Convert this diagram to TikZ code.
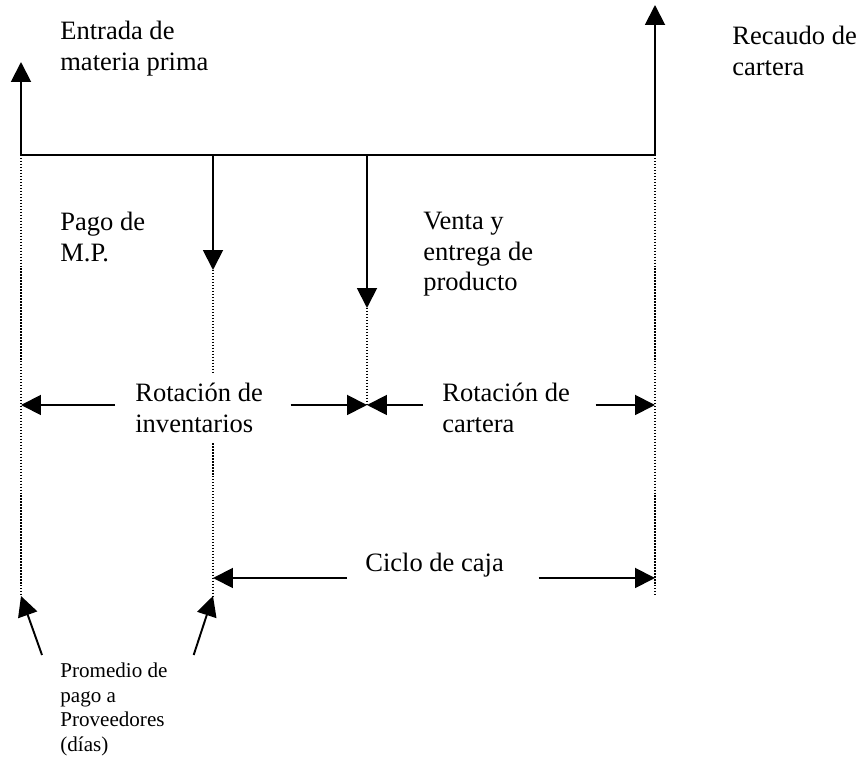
\documentclass[tikz,border=0pt]{standalone}
\usepackage{fontspec}
\setmainfont{Liberation Serif}
\usetikzlibrary{arrows.meta}

\newcommand{\letragrande}{\fontsize{15.1pt}{17.4pt}\selectfont}
\newcommand{\letrachica}{\fontsize{12pt}{13.9pt}\selectfont}

\begin{document}
\begin{tikzpicture}[x=0.02cm, y=-0.02cm,
  linea/.style={line width=1.2pt},
  flecha/.style={line width=1.1pt, -{Triangle[length=0.4cm, width=0.4cm]}},
  guia/.style={line width=0.8pt, dash pattern=on 0.8pt off 0.9pt},
  rotulo/.style={anchor=north west, inner sep=0pt, align=flush left, font=\letragrande},
  cota/.style={anchor=north west, inner ysep=0.2cm, align=flush left, font=\letragrande}]

\useasboundingbox (0,0) rectangle (860,763);

\coordinate (A) at (21,155);
\coordinate (B) at (213,155);
\coordinate (C) at (367,155);
\coordinate (D) at (655,155);
\coordinate (entrada) at (21,62);
\coordinate (recaudo) at (655,5);
\coordinate (pago) at (213,270);
\coordinate (venta) at (367,308);

\coordinate (A1) at (21,405);
\coordinate (C1) at (367,405);
\coordinate (D1) at (655,405);
\coordinate (B2) at (213,578);
\coordinate (D2) at (655,578);
\coordinate (A3) at (21,596);
\coordinate (B3) at (213,596);
\coordinate (D3) at (655,596);

% linea de tiempo
\draw [linea] (A) -- (D);
\draw [flecha] (A) -- (entrada);
\draw [flecha] (D) -- (recaudo);
\draw [flecha] (B) -- (pago);
\draw [flecha] (C) -- (venta);

% guias
\draw [guia] (A) -- (A3);
\draw [guia] (pago) -- (B3);
\draw [guia] (venta) -- (C1);
\draw [guia] (D) -- (D3);

\node [rotulo] (txtentrada) at (60,21) {Entrada de\\materia prima};
\node [rotulo] (txtrecaudo) at (732,26) {Recaudo de\\cartera};
\node [rotulo] (txtpago) at (60,212) {Pago de\\M.P.};
\node [rotulo] (txtventa) at (423,212) {Venta y\\entrega de\\producto};

% rotaciones
\node [cota, text width=2.7cm, inner xsep=0.4cm, fill=white] (rotinv) at (115,373) {Rotación de\\inventarios};
\draw [flecha] (rotinv.west |- A1) -- (A1);
\draw [flecha] (rotinv.east |- C1) -- (C1);

\node [cota, text width=2.68cm, inner xsep=0.38cm] (rotcar) at (423,373) {Rotación de\\cartera};
\draw [flecha] (rotcar.west |- C1) -- (C1);
\draw [flecha] (rotcar.east |- D1) -- (D1);

\node [cota, inner ysep=0pt, text width=3.1cm, inner xsep=0.36cm] (ciclo) at (347,553) {Ciclo de caja};
\draw [flecha] (ciclo.west |- B2) -- (B2);
\draw [flecha] (ciclo.east |- D2) -- (D2);

\node [anchor=north west, text width=2.3cm, inner xsep=0.36cm, inner ysep=0.16cm, align=flush left, font=\letrachica] (promedio) at (42,655) {Promedio de\\pago a\\Proveedores\\(días)};
\draw [flecha] (promedio.north west) -- (A3);
\draw [flecha] (promedio.north east) -- (B3);

\end{tikzpicture}
\end{document}
